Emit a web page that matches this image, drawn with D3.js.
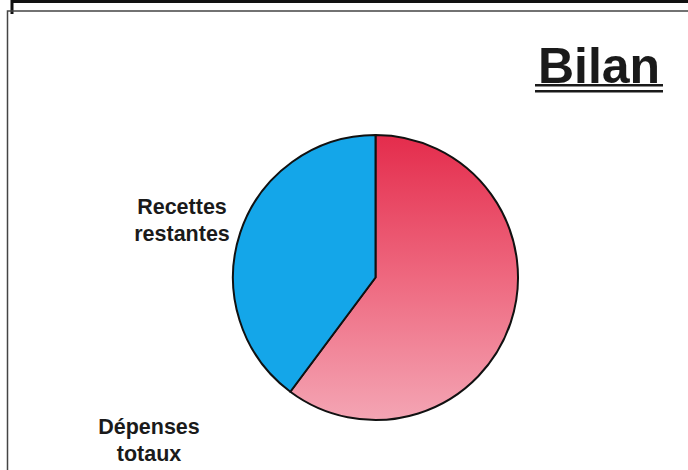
<!DOCTYPE html>
<html><head><meta charset="utf-8">
<script src="https://cdn.jsdelivr.net/npm/d3@7"></script>
<style>html,body{margin:0;padding:0;background:#fff;}svg{display:block;}</style>
</head><body>
<svg id="c" width="688" height="470"></svg>
<script>
const categories = ["Dépenses totaux", "Recettes restantes"];
const values = [60.2, 39.8];
const title = "Bilan";

const svg = d3.select("#c");

// frame (scanned slide borders)
svg.append("path").attr("d", "M12,14 L12,1.5 L688,1.5").attr("fill", "none").attr("stroke", "#111").attr("stroke-width", 3);
svg.append("path").attr("d", "M7.5,470 L7.5,11 L688,11").attr("fill", "none").attr("stroke", "#444").attr("stroke-width", 1.5);

const defs = svg.append("defs");
const cx = 375.5, cy = 277.5, r = 142.5;
const grad = defs.append("linearGradient").attr("id", "gr")
  .attr("gradientUnits", "userSpaceOnUse")
  .attr("x1", 0).attr("y1", -r).attr("x2", 0).attr("y2", r);
grad.append("stop").attr("offset", "0%").attr("stop-color", "#e42c4c");
grad.append("stop").attr("offset", "50%").attr("stop-color", "#ee687f");
grad.append("stop").attr("offset", "100%").attr("stop-color", "#f4a5b4");

const fills = ["url(#gr)", "#14a6e9"];
const pie = d3.pie().sort(null).startAngle(0).endAngle(2 * Math.PI);
const arc = d3.arc().innerRadius(0).outerRadius(r);
const g = svg.append("g").attr("transform", `translate(${cx},${cy})`);
g.selectAll("path").data(pie(values)).join("path")
  .attr("d", arc)
  .attr("fill", (d, i) => fills[i])
  .attr("stroke", "#111").attr("stroke-width", 2).attr("stroke-linejoin", "round");

// labels
const font = "'Liberation Sans', Arial, sans-serif";
const labelPos = [
  { x: 149, y: 434 },
  { x: 182, y: 214 }
];
categories.forEach((c, i) => {
  const words = i === 0 ? ["Dépenses", "totaux"] : ["Recettes", "restantes"];
  const t = svg.append("text").attr("x", labelPos[i].x).attr("y", labelPos[i].y)
    .attr("text-anchor", "middle").attr("font-family", font).attr("font-weight", "bold")
    .attr("font-size", 21.5).attr("fill", "#1a1a1a");
  words.forEach((w, j) => t.append("tspan").attr("x", labelPos[i].x).attr("dy", j === 0 ? 0 : 27).text(w));
});

// title
svg.append("text").attr("x", 599).attr("y", 83).attr("text-anchor", "middle")
  .attr("font-family", font).attr("font-weight", "bold").attr("font-size", 50)
  .attr("fill", "#1a1a1a").text(title);
svg.append("rect").attr("x", 535).attr("y", 84).attr("width", 128).attr("height", 2.5).attr("fill", "#1a1a1a");
svg.append("rect").attr("x", 535).attr("y", 90).attr("width", 128).attr("height", 2.5).attr("fill", "#1a1a1a");
</script>
</body></html>
